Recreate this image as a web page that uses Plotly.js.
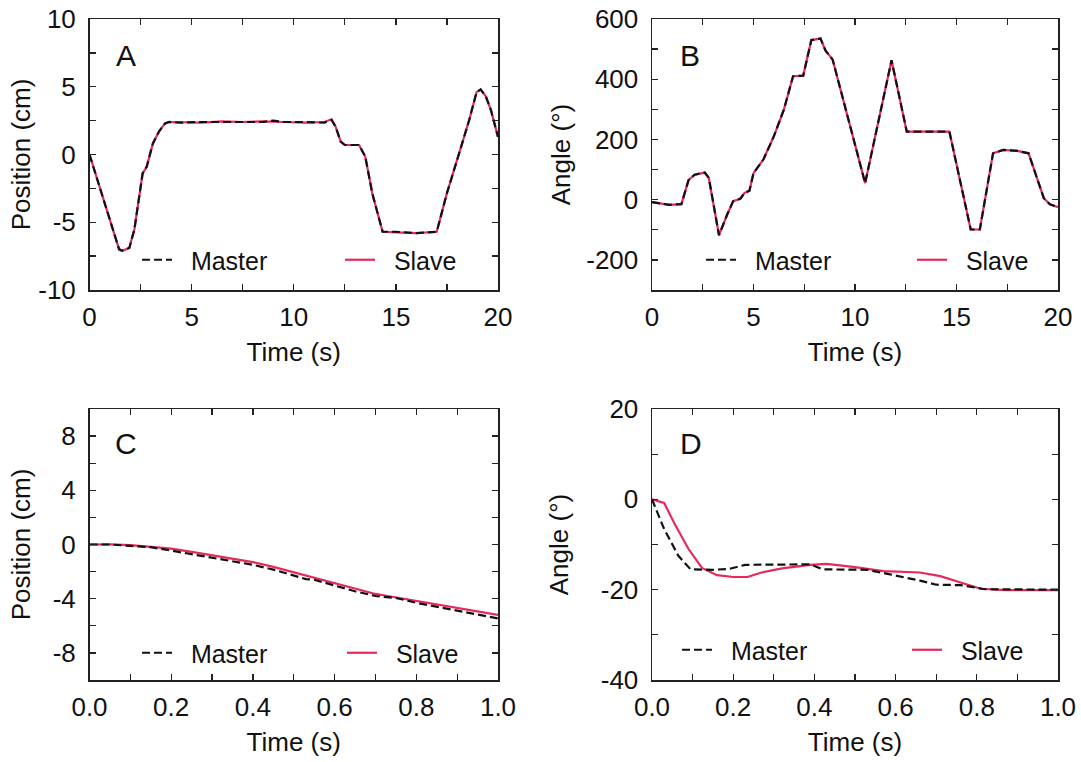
<!DOCTYPE html>
<html>
<head>
<meta charset="utf-8">
<script src="https://cdn.plot.ly/plotly-3.0.1.min.js"></script>
<style>
  html, body { margin: 0; padding: 0; background: #ffffff; }
  #chart { width: 1081px; height: 762px; }
</style>
</head>
<body>
<div id="chart"></div>
<script>
// ---------- Panel A: position (cm) vs time (s), 0-20 s ----------
const tA = [0, 0.5, 1.0, 1.45, 1.6, 1.95, 2.2, 2.6, 2.8, 3.1, 3.4, 3.7, 3.9, 4.5, 5.5, 6.5, 7.5, 8.5, 9.0, 9.5, 10.5, 11.5, 11.85, 12.05, 12.3, 12.5, 13.2, 13.5, 13.85, 14.35, 15.0, 16.0, 17.0, 17.25, 17.5, 18.2, 18.6, 18.95, 19.15, 19.4, 19.65, 20];
const masterA = [0, -2.4, -4.8, -7.0, -7.1, -6.9, -5.5, -1.4, -0.9, 0.8, 1.7, 2.3, 2.4, 2.35, 2.4, 2.4, 2.45, 2.4, 2.5, 2.4, 2.4, 2.35, 2.55, 2.05, 0.95, 0.7, 0.7, -0.15, -2.9, -5.7, -5.7, -5.8, -5.7, -4.3, -2.85, 0.6, 2.6, 4.6, 4.8, 4.3, 3.3, 1.3];
const slaveA  = [0, -2.4, -4.8, -7.0, -7.1, -6.9, -5.5, -1.4, -0.9, 0.8, 1.7, 2.3, 2.4, 2.4, 2.35, 2.45, 2.4, 2.45, 2.45, 2.4, 2.35, 2.4, 2.6, 2.05, 0.95, 0.7, 0.7, -0.15, -2.9, -5.7, -5.75, -5.8, -5.7, -4.3, -2.85, 0.6, 2.6, 4.6, 4.8, 4.3, 3.3, 1.3];

// ---------- Panel B: angle (deg) vs time (s), 0-20 s ----------
const tB = [0, 0.85, 1.45, 1.8, 2.1, 2.6, 2.8, 3.3, 3.7, 4.0, 4.35, 4.55, 4.8, 5.0, 5.5, 6.0, 6.5, 6.95, 7.45, 7.85, 8.3, 8.55, 8.9, 10.5, 11.8, 12.55, 14.65, 15.7, 16.15, 16.8, 17.3, 18.0, 18.55, 19.3, 19.6, 20];
const masterB = [-8, -17, -15, 65, 83, 90, 72, -118, -50, -5, 3, 22, 30, 88, 135, 210, 300, 410, 412, 530, 535, 495, 465, 55, 463, 226, 226, -99, -99, 154, 165, 162, 154, 5, -15, -25];
const slaveB  = [-8, -17, -15, 65, 83, 90, 72, -118, -50, -5, 3, 22, 30, 88, 135, 210, 300, 410, 412, 530, 535, 495, 465, 55, 463, 226, 226, -99, -99, 154, 165, 162, 154, 5, -15, -25];

// ---------- Panel C: position (cm) vs time (s), 0-1 s ----------
const tC = [0, 0.05, 0.1, 0.15, 0.2, 0.25, 0.3, 0.35, 0.4, 0.45, 0.5, 0.53, 0.55, 0.6, 0.65, 0.7, 0.73, 0.75, 0.8, 0.85, 0.9, 0.95, 1.0];
const masterC = [0, 0, -0.1, -0.2, -0.45, -0.7, -0.95, -1.25, -1.5, -1.85, -2.3, -2.55, -2.6, -3.05, -3.45, -3.8, -3.9, -3.95, -4.3, -4.6, -4.9, -5.15, -5.45];
const slaveC  = [0, 0.02, -0.05, -0.15, -0.3, -0.55, -0.8, -1.05, -1.3, -1.65, -2.05, -2.3, -2.45, -2.9, -3.3, -3.65, -3.8, -3.9, -4.2, -4.45, -4.7, -4.95, -5.2];

// ---------- Panel D: angle (deg) vs time (s), 0-1 s ----------
const tDm = [0, 0.03, 0.065, 0.095, 0.15, 0.19, 0.23, 0.32, 0.39, 0.42, 0.53, 0.58, 0.62, 0.66, 0.7, 0.76, 0.82, 0.9, 1.0];
const masterD = [0, -6.6, -12.5, -15.5, -15.6, -15.4, -14.5, -14.5, -14.4, -15.5, -15.6, -16.5, -17.2, -18.0, -18.9, -19.0, -19.9, -20.0, -20.0];
const tDs = [0, 0.03, 0.055, 0.09, 0.123, 0.16, 0.2, 0.235, 0.27, 0.32, 0.39, 0.43, 0.5, 0.57, 0.66, 0.71, 0.76, 0.81, 0.87, 1.0];
const slaveD  = [0, -0.8, -5.3, -11.0, -15.2, -16.8, -17.2, -17.2, -16.2, -15.3, -14.5, -14.3, -15.0, -15.9, -16.2, -17.0, -18.4, -19.8, -20.1, -20.1];

// ---------- tick labels ----------
const yTicksA = [-10, -5, 0, 5, 10];
const yTickTextA = ['-10', '-5', '0', '5', '10'];
const yTicksB = [-200, 0, 200, 400, 600];
const yTickTextB = ['-200', '0', '200', '400', '600'];
const yTicksC = [-8, -4, 0, 4, 8];
const yTickTextC = ['-8', '-4', '0', '4', '8'];
const yTicksD = [-40, -20, 0, 20];
const yTickTextD = ['-40', '-20', '0', '20'];

// ---------- text ----------
const panelLetters = ['A', 'B', 'C', 'D'];
const seriesNames = ['\u00a0\u00a0Master', '\u00a0\u00a0Slave'];
const xTitle = 'Time (s)';
const yTitlePos = 'Position (cm)';
const yTitleAng = 'Angle (°)';

const RED = '#e8285a';
const FONT = 'Liberation Sans, Arial, Helvetica, sans-serif';
const W = 1081, H = 762;

function masterTrace(x, y, ax, leg) {
  return { x: x, y: y, xaxis: 'x' + ax, yaxis: 'y' + ax, name: seriesNames[0], legend: leg,
    type: 'scatter', mode: 'lines', showlegend: true,
    line: { color: '#111111', width: 2.2, dash: '8px,4px' } };
}
function slaveTrace(x, y, ax, leg) {
  return { x: x, y: y, xaxis: 'x' + ax, yaxis: 'y' + ax, name: seriesNames[1], legend: leg,
    type: 'scatter', mode: 'lines', showlegend: true,
    line: { color: RED, width: 2.2 } };
}

const data = [
  slaveTrace(tA, slaveA, '', 'legend2'), masterTrace(tA, masterA, '', 'legend'),
  slaveTrace(tB, slaveB, '2', 'legend4'), masterTrace(tB, masterB, '2', 'legend3'),
  slaveTrace(tC, slaveC, '3', 'legend6'), masterTrace(tC, masterC, '3', 'legend5'),
  slaveTrace(tDs, slaveD, '4', 'legend8'), masterTrace(tDm, masterD, '4', 'legend7')
];

const xdomL = [89.5 / W, 498 / W], xdomR = [652 / W, 1058 / W];
const ydomT = [1 - 290 / H, 1 - 19 / H], ydomB = [1 - 680 / H, 1 - 409 / H];

function axis(extra) {
  return Object.assign({
    showgrid: false, zeroline: false, showline: true, mirror: 'allticks',
    linecolor: '#222222', linewidth: 1.5,
    ticks: 'inside', ticklen: 6, tickwidth: 1.3, tickcolor: '#222222',
    ticklabelstandoff: 3,
    tickfont: { family: FONT, size: 26, color: '#111111' },
    fixedrange: true
  }, extra);
}
function minor(d) { return { dtick: d, ticks: 'inside', ticklen: 6, tickwidth: 1.3, tickcolor: '#222222', showgrid: false }; }
function ttl(t, st) { return { text: t, font: { family: FONT, size: 26, color: '#111111' }, standoff: st }; }

function legendCfg(x, y) {
  return { orientation: 'h', x: x / W, y: 1 - y / H, xanchor: 'left', yanchor: 'middle',
    bgcolor: 'rgba(0,0,0,0)', borderwidth: 0, itemwidth: 30,
    font: { family: FONT, size: 25, color: '#111111' }, itemclick: false, itemdoubleclick: false };
}

const layout = {
  width: W, height: H,
  margin: { l: 0, r: 0, t: 0, b: 0 },
  showlegend: true,
  paper_bgcolor: '#ffffff', plot_bgcolor: '#ffffff',
  font: { family: FONT, size: 25, color: '#111111' },
  xaxis:  axis({ domain: xdomL, anchor: 'y',  range: [0, 20], dtick: 5, tick0: 0, minor: minor(2.5), title: ttl(xTitle, 12) }),
  yaxis:  axis({ domain: ydomT, anchor: 'x',  range: [-10, 10], tickmode: 'array', tickvals: yTicksA, ticktext: yTickTextA, minor: minor(2.5), ticklabelstandoff: 7, title: ttl(yTitlePos, 0) }),
  xaxis2: axis({ domain: xdomR, anchor: 'y2', range: [0, 20], dtick: 5, tick0: 0, minor: minor(2.5), title: ttl(xTitle, 12) }),
  yaxis2: axis({ domain: ydomT, anchor: 'x2', range: [-300, 600], tickmode: 'array', tickvals: yTicksB, ticktext: yTickTextB, minor: minor(100), ticklabelstandoff: 7, title: ttl(yTitleAng, 8) }),
  xaxis3: axis({ domain: xdomL, anchor: 'y3', range: [0, 1], dtick: 0.2, tick0: 0, tickformat: '.1f', minor: minor(0.1), title: ttl(xTitle, 12) }),
  yaxis3: axis({ domain: ydomB, anchor: 'x3', range: [-10, 10], tickmode: 'array', tickvals: yTicksC, ticktext: yTickTextC, minor: minor(2), ticklabelstandoff: 7, title: ttl(yTitlePos, 14) }),
  xaxis4: axis({ domain: xdomR, anchor: 'y4', range: [0, 1], dtick: 0.2, tick0: 0, tickformat: '.1f', minor: minor(0.1), title: ttl(xTitle, 12) }),
  yaxis4: axis({ domain: ydomB, anchor: 'x4', range: [-40, 20], tickmode: 'array', tickvals: yTicksD, ticktext: yTickTextD, minor: minor(10), ticklabelstandoff: 7, title: ttl(yTitleAng, 24) }),
  legend:  legendCfg(137, 260),
  legend2: legendCfg(340, 260),
  legend3: legendCfg(701, 260),
  legend4: legendCfg(912, 260),
  legend5: legendCfg(137, 653),
  legend6: legendCfg(342, 653),
  legend7: legendCfg(677, 650),
  legend8: legendCfg(907, 650),
  annotations: [
    { text: panelLetters[0], x: 126 / W, y: 1 - 56 / H },
    { text: panelLetters[1], x: 690 / W, y: 1 - 56 / H },
    { text: panelLetters[2], x: 126 / W, y: 1 - 443 / H },
    { text: panelLetters[3], x: 691 / W, y: 1 - 443 / H }
  ].map(a => Object.assign({ xref: 'paper', yref: 'paper', xanchor: 'center', yanchor: 'middle',
      showarrow: false, font: { family: FONT, size: 30, color: '#111111' } }, a))
};

Plotly.newPlot('chart', data, layout, { displayModeBar: false, staticPlot: true });
</script>
</body>
</html>
